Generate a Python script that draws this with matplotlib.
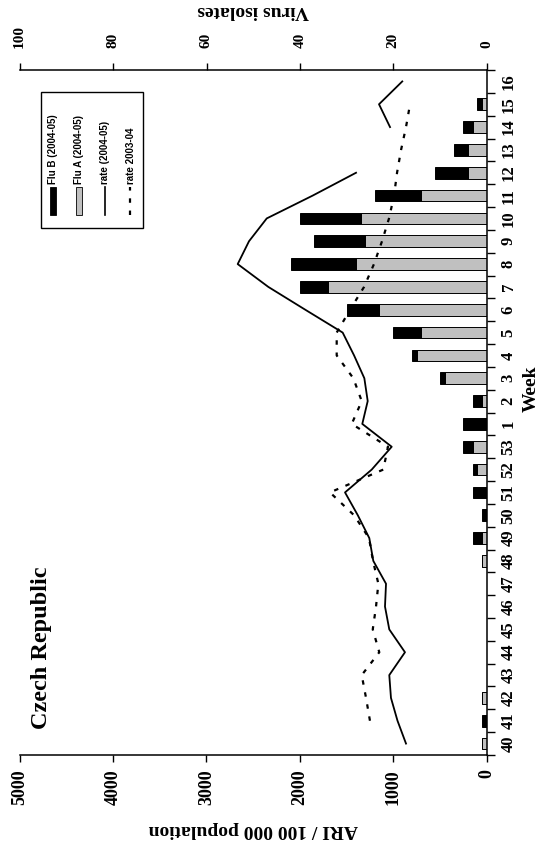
import numpy as np
import matplotlib
matplotlib.use("Agg")
import matplotlib.pyplot as plt
from matplotlib.patches import Rectangle
from matplotlib.lines import Line2D
from matplotlib.ticker import FixedLocator, NullFormatter

# weekly data, season 2004-05 (week 40 .. week 16)
weeks = [40, 41, 42, 43, 44, 45, 46, 47, 48, 49, 50, 51, 52, 53,
         1, 2, 3, 4, 5, 6, 7, 8, 9, 10, 11, 12, 13, 14, 15, 16]
flu_a = [1, 0, 1, 0, 0, 0, 0, 0, 1, 1, 0, 0, 2, 3,
         0, 1, 9, 15, 14, 23, 34, 28, 26, 27, 14, 4, 4, 3, 1, 0]
flu_b = [0, 1, 0, 0, 0, 0, 0, 0, 0, 2, 1, 3, 1, 2,
         5, 2, 1, 1, 6, 7, 6, 14, 11, 13, 10, 7, 3, 2, 1, 0]
rate_0405 = [864, 955, 1025, 1043, 875, 1043, 1089, 1078, 1214, 1257, 1380, 1517, 1231, 1017,
             1332, 1274, 1310, 1420, 1542, 1942, 2338, 2666, 2545, 2355, 1863, 1399,
             np.nan, 1035, 1153, 904]
rate_0304 = [np.nan, 1250, 1292, 1338, 1150, 1220, 1185, 1160, 1217, 1260, 1420, 1678, 1107, 1057,
             1445, 1338, 1428, 1606, 1606, 1463, 1313, 1207, 1121, 1046, 992, 960,
             917, 864, 821, np.nan]

ari_ticks = [0, 1000, 2000, 3000, 4000, 5000]
iso_ticks = [0, 20, 40, 60, 80, 100]

W, H = 559, 841
serif = "Liberation Serif"
sans = "Liberation Sans"


def fx(x):
    return x / W


def fy(y):
    return 1 - y / H


fig = plt.figure(figsize=(W / 100, H / 100), dpi=100)
ax2 = fig.add_axes([fx(19.7), fy(755), fx(486.7) - fx(19.7), fy(70) - fy(755)])
ax = ax2.twiny()
ax.set_zorder(ax2.get_zorder() + 1)
ax.patch.set_visible(False)

pos = np.arange(len(weeks))

# isolates (bars) on ax2, scale at top
ax2.barh(pos, flu_a, height=0.51, color="#c0c0c0", edgecolor="black", linewidth=0.7)
ax2.barh(pos, flu_b, left=flu_a, height=0.51, color="black", edgecolor="black", linewidth=0.7)
ax2.set_xlim(100, 0)
ax2.xaxis.tick_top()
ax2.xaxis.set_label_position("top")
ax2.set_xticks(iso_ticks)
ax2.set_xticklabels([str(t) for t in iso_ticks], rotation=90, fontsize=11,
                    fontweight="bold", family=serif)
ax2.tick_params(axis="x", direction="out", length=5, width=1, pad=11)
ax2.set_xlabel("Virus isolates", rotation=180, fontsize=14, fontweight="bold",
               family=serif, labelpad=7)
ax2.yaxis.set_visible(False)
for s in ["left", "right", "bottom"]:
    ax2.spines[s].set_visible(False)
ax2.spines["top"].set_linewidth(1.1)

# ARI rates (lines) on ax, scale at bottom
ax.plot(rate_0405, pos, color="black", lw=1.3)
ax.plot(rate_0304, pos, color="black", lw=1.6, linestyle=(0, (2, 3.5)))
ax.set_xlim(5000, 0)
ax.xaxis.tick_bottom()
ax.xaxis.set_label_position("bottom")
ax.set_xticks(ari_ticks)
ax.set_xticklabels([str(t) for t in ari_ticks], rotation=90, fontsize=13,
                   fontweight="bold", family=serif)
ax.tick_params(axis="x", direction="out", length=5, width=1, pad=5)
ax.set_xlabel("ARI / 100 000 population", rotation=180, fontsize=14,
              fontweight="bold", family=serif, labelpad=12)

ax.yaxis.set_visible(True)
ax.set_ylim(-0.5, len(weeks) - 0.5)
ax.yaxis.tick_right()
ax.yaxis.set_label_position("right")
ax.set_yticks(pos)
ax.set_yticklabels([str(w) for w in weeks], rotation=90, fontsize=12,
                   fontweight="bold", family=serif, va="center")
ax.yaxis.set_minor_locator(FixedLocator(np.arange(-0.5, len(weeks), 1.0)))
ax.yaxis.set_minor_formatter(NullFormatter())
ax.tick_params(axis="y", which="major", length=0, pad=10)
ax.tick_params(axis="y", which="minor", direction="out", length=6, width=1)
ax.set_ylabel("Week", rotation=90, fontsize=14, fontweight="bold", family=serif,
              va="center", ha="center")
ax.yaxis.set_label_coords(1.096, 0.535)
ax.spines["left"].set_visible(False)
ax.spines["top"].set_visible(False)
ax.spines["right"].set_linewidth(1.1)
ax.spines["bottom"].set_linewidth(1.1)

fig.text(fx(42), fy(648), "Czech Republic", rotation=90, fontsize=17.5,
         fontweight="bold", family=serif, ha="center", va="center")

# legend box (drawn rotated to match the page orientation)
fig.add_artist(Rectangle((fx(40.7), fy(227.7)), fx(143) - fx(40.7), fy(91.7) - fy(227.7),
                         transform=fig.transFigure, facecolor="white",
                         edgecolor="black", linewidth=1.0))
entries = [("Flu B (2004-05)", 53, "black"), ("Flu A (2004-05)", 79, "#c0c0c0")]
for label, xc, col in entries:
    fig.add_artist(Rectangle((fx(xc - 3), fy(215)), fx(6), fy(187) - fy(215),
                             transform=fig.transFigure, facecolor=col,
                             edgecolor="black", linewidth=0.6))
    fig.text(fx(xc + 0.5), fy(184), label, rotation=90, fontsize=7, fontweight="bold",
             family=sans, ha="center", va="bottom")
fig.add_artist(Line2D([fx(105), fx(105)], [fy(215), fy(187)], transform=fig.transFigure,
                      color="black", lw=1.2))
fig.text(fx(105.5), fy(184), "rate (2004-05)", rotation=90, fontsize=7, fontweight="bold",
         family=sans, ha="center", va="bottom")
fig.add_artist(Line2D([fx(130), fx(130)], [fy(215), fy(187)], transform=fig.transFigure,
                      color="black", lw=1.6, linestyle=(0, (2, 3.5))))
fig.text(fx(130.5), fy(184), "rate 2003-04", rotation=90, fontsize=7, fontweight="bold",
         family=sans, ha="center", va="bottom")

fig.savefig("out.png", dpi=100)
